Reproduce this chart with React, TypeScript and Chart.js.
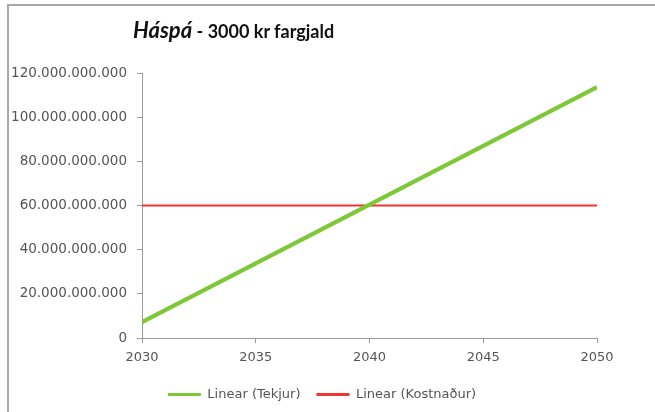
import React, { useEffect, useRef } from "react";
import { Chart, registerables } from "chart.js";

Chart.register(...registerables);

const years = [2030, 2050];
const tekjur = [7.2e9, 113.6e9];
const kostnadur = [60e9, 60e9];
const seriesNames = ["Linear (Tekjur)", "Linear (Kostnaður)"];
const yMin = 0;
const yMax = 120e9;
const yStep = 20e9;
const xMin = 2030;
const xMax = 2050;
const xStep = 5;

const fmt = (v: number) => String(Math.round(v)).replace(/\B(?=(\d{3})+(?!\d))/g, ".");

const legendShift = {
  id: "legendShift",
  afterLayout(chart: any) {
    const l = chart.legend;
    if (l) {
      l.left += 47;
      l.width -= 47;
    }
  },
};

export default function App() {
  const ref = useRef<HTMLCanvasElement | null>(null);

  useEffect(() => {
    document.body.style.margin = "0";
    const ctx = ref.current!;
    const green = "rgb(126, 200, 56)";
    const red = "rgb(240, 52, 52)";
    const chart = new Chart(ctx, {
      type: "line",
      data: {
        datasets: [
          {
            label: seriesNames[0],
            data: years.map((x, i) => ({ x, y: tekjur[i] })),
            borderColor: green,
            backgroundColor: green,
            borderWidth: 4,
            pointRadius: 0,
            tension: 0,
          },
          {
            label: seriesNames[1],
            data: years.map((x, i) => ({ x, y: kostnadur[i] })),
            borderColor: red,
            backgroundColor: red,
            borderWidth: 2,
            pointRadius: 0,
            tension: 0,
          },
        ],
      },
      plugins: [legendShift],
      options: {
        animation: false,
        responsive: false,
        devicePixelRatio: 1,
        layout: { padding: { top: 73, right: 58, bottom: 1, left: 0 } },
        plugins: {
          title: { display: false },
          tooltip: { enabled: false },
          legend: {
            position: "bottom",
            labels: {
              font: { family: "DejaVu Sans", size: 13 },
              color: "#555",
              boxWidth: 33,
              boxHeight: 3,
              padding: 16,
              generateLabels: (c: any) =>
                c.data.datasets.map((d: any, i: number) => ({
                  text: d.label,
                  fillStyle: d.borderColor,
                  strokeStyle: d.borderColor,
                  lineWidth: 0,
                  fontColor: "#555",
                  datasetIndex: i,
                  hidden: false,
                })),
            },
          },
        },
        scales: {
          x: {
            type: "linear",
            min: xMin,
            max: xMax,
            afterFit: (s: any) => {
              s.height = 34;
            },
            ticks: {
              stepSize: xStep,
              callback: (v: any) => String(v),
              font: { family: "DejaVu Sans", size: 13 },
              color: "#555",
              padding: 7,
              maxRotation: 0,
            },
            grid: { drawOnChartArea: false, tickLength: 5, color: "#9a9a9a" },
            border: { color: "#9a9a9a", width: 1 },
          },
          y: {
            min: yMin,
            max: yMax,
            afterFit: (s: any) => {
              s.width = 142;
            },
            ticks: {
              stepSize: yStep,
              callback: (v: any) => fmt(Number(v)),
              font: { family: "DejaVu Sans", size: 13.5 },
              color: "#555",
              padding: 10,
            },
            grid: { drawOnChartArea: false, tickLength: 5, color: "#9a9a9a" },
            border: { color: "#9a9a9a", width: 1 },
          },
        },
      },
    } as any);
    return () => chart.destroy();
  }, []);

  return (
    <div style={{ position: "fixed", left: 0, top: 0, width: 655, height: 412, background: "#fff", overflow: "hidden" }}>
      <div
        style={{
          position: "absolute",
          left: 7,
          top: 4,
          width: 660,
          height: 420,
          borderLeft: "2px solid #a8a8a8",
          borderTop: "2px solid #a8a8a8",
          boxSizing: "border-box",
        }}
      />
      <canvas ref={ref} width={655} height={412} style={{ position: "absolute", left: 0, top: 0 }} />
      <div
        style={{
          position: "absolute",
          left: 133,
          top: 16,
          fontFamily: "Lato, 'Open Sans', sans-serif",
          fontWeight: 700,
          color: "#111",
          whiteSpace: "nowrap",
          lineHeight: "28px",
        }}
      >
        <span style={{ fontStyle: "italic", fontSize: 22 }}>Háspá</span>
        <span style={{ fontSize: 18 }}> - 3000 kr fargjald</span>
      </div>
    </div>
  );
}
